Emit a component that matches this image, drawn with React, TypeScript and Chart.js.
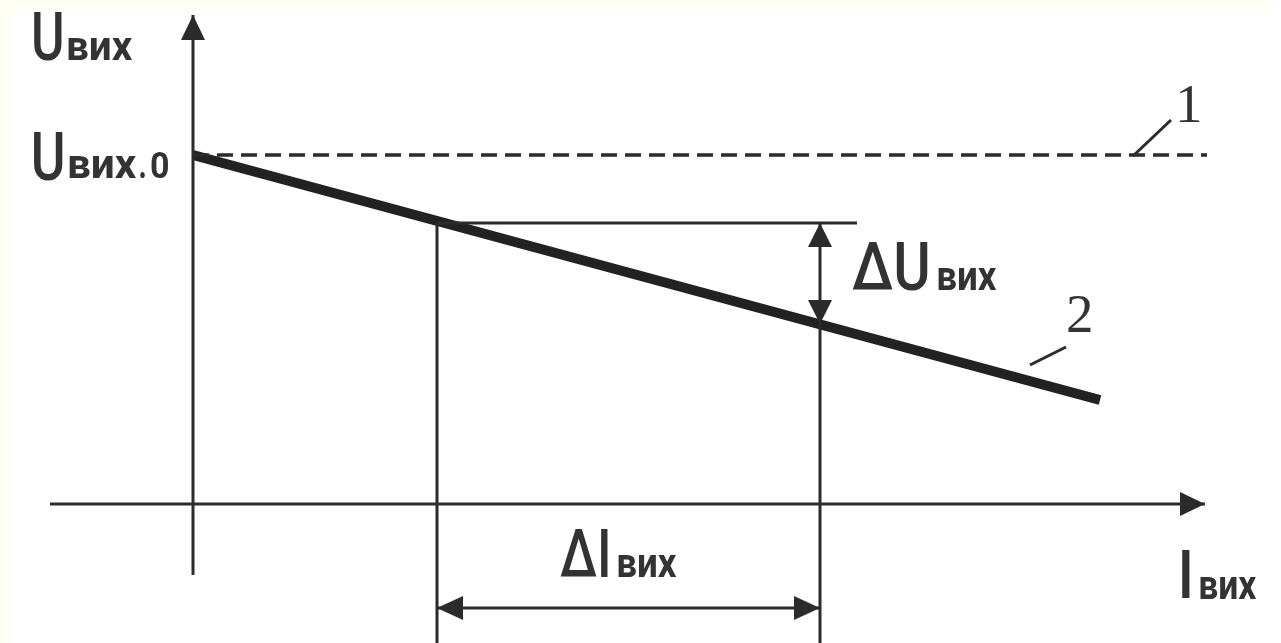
import React, { useEffect, useRef } from "react";
import { Chart, registerables } from "chart.js";

Chart.register(...registerables);

// Visible window of the plot (current, voltage units)
const X_RANGE = [-1.93, 10.88];
const Y_RANGE = [-1.39, 5.04];

// Axis extents
const CURRENT_AXIS = [-1.43, 10.12];
const VOLTAGE_AXIS = [-0.71, 4.89];

// 1 — ideal source: constant output voltage
const IDEAL_CURRENT = [0, 10.14];
const IDEAL_VOLTAGE = [3.49, 3.49];

// 2 — real source: output voltage falls with load current
const LOAD_CURRENT = [0, 9.07];
const LOAD_VOLTAGE = [3.49, 1.04];

// Two operating points used for the increments
const POINT_CURRENT = [2.44, 6.27];
const POINT_VOLTAGE = [2.81, 1.8];
const REF_LINE_END = 6.64;
const DIM_LEVEL = -1.04;

// Leader lines for the curve numbers
const LEADER1_CURRENT = [9.4, 9.78];
const LEADER1_VOLTAGE = [3.48, 3.84];
const LEADER2_CURRENT = [8.37, 8.73];
const LEADER2_VOLTAGE = [1.39, 1.57];
const CURVE_TAGS = ["1", "2"];

const INK = "#2b2b2b";
const TEXT = "#333333";

const seg = (xs: number[], ys: number[]) => xs.map((x, i) => ({ x, y: ys[i] }));

function fitText(
  ctx: CanvasRenderingContext2D,
  text: string,
  font: string,
  left: number,
  baseline: number,
  width: number
) {
  ctx.font = font;
  ctx.textAlign = "left";
  ctx.textBaseline = "alphabetic";
  const m = ctx.measureText(text);
  const ink = m.actualBoundingBoxLeft + m.actualBoundingBoxRight;
  const s = width / ink;
  ctx.save();
  ctx.translate(left, baseline);
  ctx.scale(s, 1);
  ctx.fillText(text, m.actualBoundingBoxLeft, 0);
  ctx.restore();
}

function arrowHead(
  ctx: CanvasRenderingContext2D,
  tx: number,
  ty: number,
  dx: number,
  dy: number,
  len = 25,
  half = 12
) {
  const bx = tx - dx * len;
  const by = ty - dy * len;
  const nx = -dy;
  const ny = dx;
  ctx.beginPath();
  ctx.moveTo(tx, ty);
  ctx.lineTo(bx + nx * half, by + ny * half);
  ctx.lineTo(bx - nx * half, by - ny * half);
  ctx.closePath();
  ctx.fill();
}

const MAIN = "500 66px Roboto";
const SUB = "700 40px Roboto";
const SUB_DIGIT = "700 36px Roboto";

const decorations = {
  id: "decorations",
  beforeDraw(chart: any) {
    const { ctx, width, height } = chart;
    ctx.save();
    ctx.fillStyle = "#fffff5";
    ctx.fillRect(0, 0, width, height);
    ctx.fillStyle = "#ffffff";
    ctx.fillRect(13, 10, 1259, height - 10);
    ctx.fillRect(1272, 0, width - 1272, height);
    ctx.restore();
  },
  afterDatasetsDraw(chart: any) {
    const { ctx } = chart;
    const xs = chart.scales.x;
    const ys = chart.scales.y;
    const px = (v: number) => xs.getPixelForValue(v);
    const py = (v: number) => ys.getPixelForValue(v);
    ctx.save();
    ctx.fillStyle = INK;

    // axis arrows
    arrowHead(ctx, px(0), py(VOLTAGE_AXIS[1]), 0, -1);
    arrowHead(ctx, px(CURRENT_AXIS[1]), py(0), 1, 0);

    // ΔU dimension arrows
    const x2 = px(POINT_CURRENT[1]);
    arrowHead(ctx, x2, py(POINT_VOLTAGE[0]), 0, -1, 24, 12);
    arrowHead(ctx, x2, py(POINT_VOLTAGE[1]), 0, 1, 24, 12);

    // ΔI dimension arrows
    const yd = py(DIM_LEVEL);
    arrowHead(ctx, px(POINT_CURRENT[0]), yd, -1, 0, 26, 12);
    arrowHead(ctx, px(POINT_CURRENT[1]), yd, 1, 0, 26, 12);

    // axis and increment labels
    ctx.fillStyle = TEXT;
    const ax = px(0);
    fitText(ctx, "U", MAIN, ax - 159, 60, 28);
    fitText(ctx, "вих", SUB, ax - 125, 60, 65);

    const u0 = py(IDEAL_VOLTAGE[0]);
    fitText(ctx, "U", MAIN, ax - 159, u0 + 25, 29);
    fitText(ctx, "вих", SUB, ax - 124, u0 + 23, 68);
    fitText(ctx, ".", SUB, ax - 53, u0 + 23, 5);
    fitText(ctx, "0", SUB_DIGIT, ax - 42, u0 + 23, 17);

    fitText(ctx, "ΔU", MAIN, x2 + 32, 290, 76);
    fitText(ctx, "вих", SUB, x2 + 118, 290, 59);

    const x1 = px(POINT_CURRENT[0]);
    fitText(ctx, "ΔI", MAIN, x1 + 123, 577, 48);
    fitText(ctx, "вих", SUB, x1 + 181, 577, 59);

    fitText(ctx, "I", MAIN, 1182, 598, 8);
    fitText(ctx, "вих", SUB, 1200, 599, 57);

    // curve numbers
    ctx.font = "55px 'Liberation Serif'";
    ctx.textAlign = "left";
    ctx.textBaseline = "alphabetic";
    ctx.fillText(CURVE_TAGS[0], px(LEADER1_CURRENT[1]) + 4, py(LEADER1_VOLTAGE[1]) + 2);
    ctx.fillText(CURVE_TAGS[1], px(LEADER2_CURRENT[1]) + 0, py(LEADER2_VOLTAGE[1]) - 15);
    ctx.restore();
  },
};

const thin = (data: { x: number; y: number }[], extra: any = {}) => ({
  data,
  showLine: true,
  borderColor: INK,
  borderWidth: 3,
  pointRadius: 0,
  fill: false,
  ...extra,
});

export default function App() {
  const ref = useRef<HTMLCanvasElement | null>(null);

  useEffect(() => {
    if (!ref.current) return;
    const chart = new Chart(ref.current, {
      type: "scatter",
      data: {
        datasets: [
          thin(seg([0, 0], VOLTAGE_AXIS)),
          thin(seg(CURRENT_AXIS, [0, 0])),
          thin(seg(IDEAL_CURRENT, IDEAL_VOLTAGE), { borderDash: [16, 8], borderWidth: 3.5 }),
          thin(seg([POINT_CURRENT[0], POINT_CURRENT[0]], [POINT_VOLTAGE[0], Y_RANGE[0]])),
          thin(seg([POINT_CURRENT[1], POINT_CURRENT[1]], [POINT_VOLTAGE[0], Y_RANGE[0]])),
          thin(seg([POINT_CURRENT[0], REF_LINE_END], [POINT_VOLTAGE[0], POINT_VOLTAGE[0]])),
          thin(seg(POINT_CURRENT, [DIM_LEVEL, DIM_LEVEL])),
          thin(seg(LEADER1_CURRENT, LEADER1_VOLTAGE)),
          thin(seg(LEADER2_CURRENT, LEADER2_VOLTAGE)),
          thin(seg(LOAD_CURRENT, LOAD_VOLTAGE), { borderWidth: 10, borderColor: "#222222", borderCapStyle: "butt" }),
        ],
      },
      options: {
        animation: false,
        responsive: false,
        events: [],
        layout: { padding: 0 },
        scales: {
          x: { type: "linear", min: X_RANGE[0], max: X_RANGE[1], display: false },
          y: { type: "linear", min: Y_RANGE[0], max: Y_RANGE[1], display: false },
        },
        plugins: { legend: { display: false }, tooltip: { enabled: false } },
      },
      plugins: [decorations],
    });
    return () => chart.destroy();
  }, []);

  return (
    <div style={{ position: "absolute", left: 0, top: 0, width: 1281, height: 643 }}>
      <canvas ref={ref} width={1281} height={643} style={{ display: "block" }} />
    </div>
  );
}
